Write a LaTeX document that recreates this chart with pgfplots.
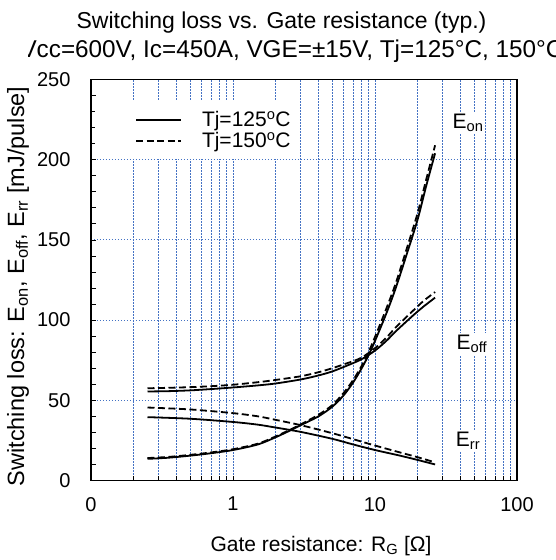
\documentclass[border=0pt]{standalone}
\usepackage{fontspec}
\setmainfont{Liberation Sans}
\usepackage{pgfplots}
\usepackage{pgfplotstable}
\pgfplotsset{compat=1.18}
\definecolor{gridblue}{RGB}{68,114,196}

\pgfplotstableread{
R s d
0.25 13.5 14
0.35 14.2 14.7
0.5 15.5 16
0.7 17 17.5
1 19 19.5
1.5 22.5 23
2 27 27.5
2.5 31 31.5
3 34.5 35
4 40 41
5 46 47
6 53 54.5
7 61 62.5
8 69.5 71
9 78 80
10 87 89.5
12 104 107
14 120 123
17 143 146.5
20 163 167
23 184 188
26.5 204 209
}\eontab

\pgfplotstableread{
R s d
0.25 55.5 57.5
0.35 55.7 57.8
0.5 56.2 58.2
0.7 57 58.8
1 58 59.7
1.5 59.3 61.3
2 60.5 62.7
3 63 65
4 65.5 67.5
5 68 70
6.3 71.5 73
8 75.5 76.5
10 81 82.5
12 87 89
14.2 93.5 96
18.6 103 106
22 108.5 112
26.5 114 117.5
}\eofftab

\pgfplotstableread{
R s d
0.25 39.5 45.5
0.5 38.5 44.3
1 36.5 42
1.5 34.8 40
2 33 37.8
3 30.3 34.5
5 26 29.5
7 22.5 25.8
10 19 21.8
15 15.5 17.5
20 12.8 14.5
26.5 10 11.3
}\errtab

\begin{document}
\begin{tikzpicture}[x=1pt,y=1pt]
\begin{axis}[
  name=ax,
  at={(91pt,-480.5pt)}, anchor=south west,
  width=426pt, height=401pt, scale only axis,
  xmode=log, xmin=0.1, xmax=100, ymin=0, ymax=250,
  xtick={0.10001,1,10,100}, xticklabels={0,1,10,100},
  minor xtick={0.2,0.3,0.4,0.5,0.6,0.7,0.8,0.9,2,3,4,5,6,7,8,9,20,30,40,50,60,70,80,90},
  ytick={0,50,100,150,200,250}, minor y tick num=4,
  tick pos=left, tick align=inside,
  major tick length=5pt, minor tick length=5pt,
  xmajorgrids, xminorgrids, ymajorgrids,
  major grid style={gridblue, line width=0.9pt, dash pattern=on 1.2pt off 1.8pt},
  minor grid style={gridblue, line width=0.9pt, dash pattern=on 1.2pt off 1.8pt},
  axis line style={line width=1.3pt},
  tick style={black, line width=0.8pt},
  ticklabel style={font=\fontsize{20}{24}\selectfont},
  /pgf/number format/assume math mode=true,
  xticklabel style={yshift=-13pt},
  yticklabel style={xshift=-17pt},
  xlabel={Gate resistance: R\textsubscript{G} [Ω]},
  every axis x label/.style={font=\fontsize{21}{25}\selectfont, at={(axis description cs:0.54,-0.1633)}, anchor=center},
  ylabel={Switching loss: E\textsubscript{on}, E\textsubscript{off}, E\textsubscript{rr} [mJ/pulse]},
  every axis y label/.style={font=\fontsize{23.5}{27}\selectfont, at={(axis description cs:-0.1714,0.484)}, anchor=center, rotate=90},
  legend style={draw=none, fill=white, at={(axis description cs:0.0094,0.946)}, anchor=north west,
     inner xsep=0pt, inner ysep=8pt, row sep=0pt, font=\fontsize{21}{25}\selectfont,
     /tikz/every odd column/.append style={column sep=18pt}},
  legend cell align=left,
  legend image code/.code={\path (0pt,0pt); \draw[#1] (40pt,0pt) -- (85pt,0pt);},
]
\addplot[black, line width=1.8pt, smooth] table[x=R,y=s] {\eontab};
\addlegendentry{Tj=125\textsuperscript{o}C\hspace{25pt}}
\addplot[black, line width=1.8pt, smooth, dash pattern=on 7pt off 3.5pt] table[x=R,y=d] {\eontab};
\addlegendentry{Tj=150\textsuperscript{o}C\hspace{25pt}}
\addplot[black, line width=1.8pt, smooth, forget plot] table[x=R,y=s] {\eofftab};
\addplot[black, line width=1.8pt, smooth, dash pattern=on 7pt off 3.5pt, forget plot] table[x=R,y=d] {\eofftab};
\addplot[black, line width=1.8pt, smooth, forget plot] table[x=R,y=s] {\errtab};
\addplot[black, line width=1.8pt, smooth, dash pattern=on 7pt off 3.5pt, forget plot] table[x=R,y=d] {\errtab};
\node[fill=white, inner sep=2pt, font=\fontsize{21}{25}\selectfont] at (axis cs:45.2,222.8) {E\textsubscript{on}};
\node[fill=white, inner sep=2pt, font=\fontsize{21}{25}\selectfont] at (axis cs:48.2,85.3) {E\textsubscript{off}};
\node[fill=white, inner sep=2pt, font=\fontsize{21}{25}\selectfont] at (axis cs:45.2,25) {E\textsubscript{rr}};
\end{axis}
\node[anchor=base, inner sep=0pt, font=\fontsize{23}{27}\selectfont] at (281.5,-28.3) {Switching loss vs. Gate resistance (typ.)};
\begin{scope}
\clip (28,-30) rectangle (560,-66);
\node[anchor=base west, inner sep=0pt, font=\fontsize{24.3}{28}\selectfont] at (20.3,-57.3) {Vcc=600V, Ic=450A, VGE=±15V, Tj=125°C, 150°C};
\end{scope}
\pgfresetboundingbox
\useasboundingbox (0,0) rectangle (555,-560);
\end{tikzpicture}
\end{document}
